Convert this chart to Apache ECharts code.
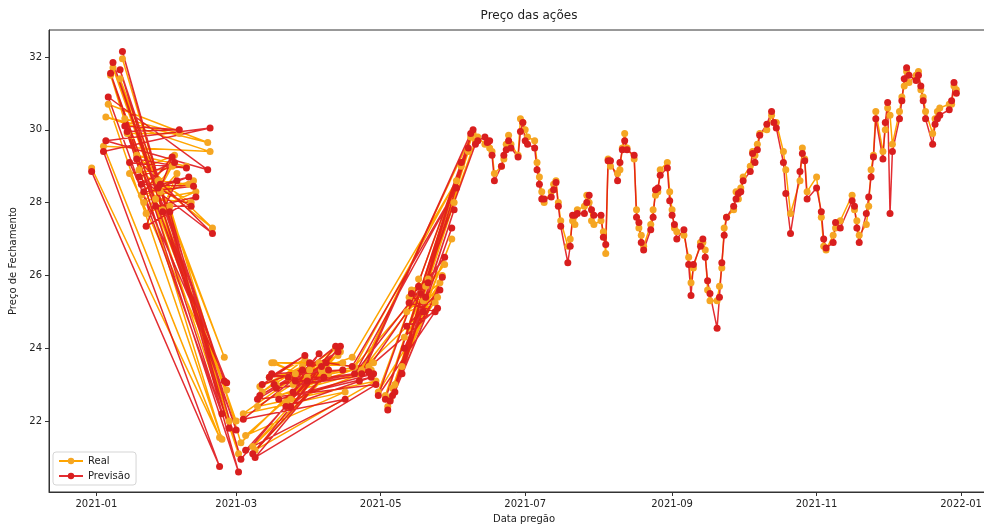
<!DOCTYPE html>
<html>
<head>
<meta charset="utf-8">
<script src="https://cdn.jsdelivr.net/npm/echarts@6/dist/echarts.min.js"></script>
<style>
  html, body { margin: 0; padding: 0; background: #fff; }
  #chart { width: 984px; height: 526px; }
</style>
</head>
<body>
<div id="chart"></div>
<script>
// pregões na ordem em que foram plotados (o primeiro semestre vem embaralhado)
const dates = [
  // jan/fev <-> fev/mar
  '2020-12-30','2021-02-22','2021-01-04','2021-02-18','2021-01-05','2021-02-17','2021-01-06','2021-02-23',
  '2021-01-07','2021-03-01','2021-01-08','2021-02-24','2021-01-11','2021-02-26','2021-01-12','2021-03-02',
  '2021-01-13','2021-02-05','2021-01-14','2021-02-25','2021-01-15','2021-02-08','2021-01-18','2021-02-19',
  '2021-01-19','2021-02-03','2021-01-20','2021-02-11','2021-01-21','2021-02-02','2021-01-22','2021-02-12',
  '2021-01-26','2021-02-10','2021-01-27','2021-02-09','2021-01-28','2021-02-04','2021-01-29','2021-02-01',
  // mar <-> abr
  '2021-03-03','2021-04-12','2021-03-04','2021-04-16','2021-03-05','2021-04-14','2021-03-08','2021-04-09',
  '2021-03-09','2021-04-29','2021-03-10','2021-04-13','2021-03-11','2021-03-29','2021-03-12','2021-03-30',
  '2021-03-15','2021-04-15','2021-03-16','2021-03-31','2021-03-17','2021-04-26','2021-03-18','2021-04-28',
  '2021-03-19','2021-04-27','2021-03-22','2021-04-01','2021-03-23','2021-04-07','2021-03-24','2021-04-06',
  '2021-03-25','2021-04-05','2021-03-26','2021-04-08',
  // abr/mai <-> mai/jun
  '2021-04-19','2021-06-02','2021-04-20','2021-05-28','2021-04-22','2021-06-08','2021-04-23','2021-05-25',
  '2021-04-30','2021-06-09','2021-05-03','2021-06-04','2021-05-04','2021-06-07','2021-05-05','2021-05-31',
  '2021-05-06','2021-06-01','2021-05-07','2021-05-27','2021-05-10','2021-05-20','2021-05-11','2021-05-26',
  '2021-05-12','2021-05-24','2021-05-13','2021-05-21','2021-05-14','2021-05-19','2021-05-17','2021-05-18',
  '2021-06-10',
  // em ordem a partir de junho
  '2021-06-11','2021-06-14','2021-06-15','2021-06-16','2021-06-17','2021-06-18','2021-06-21','2021-06-22',
  '2021-06-23','2021-06-24','2021-06-25','2021-06-28','2021-06-29','2021-06-30','2021-07-01','2021-07-02',
  '2021-07-05','2021-07-06','2021-07-07','2021-07-08','2021-07-09','2021-07-12','2021-07-13','2021-07-14',
  '2021-07-15','2021-07-16','2021-07-19','2021-07-20','2021-07-21','2021-07-22','2021-07-23','2021-07-26',
  '2021-07-27','2021-07-28','2021-07-29','2021-07-30','2021-08-02','2021-08-03','2021-08-04','2021-08-05',
  '2021-08-06','2021-08-09','2021-08-10','2021-08-11','2021-08-12','2021-08-13','2021-08-16','2021-08-17',
  '2021-08-18','2021-08-19','2021-08-20','2021-08-23','2021-08-24','2021-08-25','2021-08-26','2021-08-27',
  '2021-08-30','2021-08-31','2021-09-01','2021-09-02','2021-09-03','2021-09-06','2021-09-08','2021-09-09',
  '2021-09-10','2021-09-13','2021-09-14','2021-09-15','2021-09-16','2021-09-17','2021-09-20','2021-09-21',
  '2021-09-22','2021-09-23','2021-09-24','2021-09-27','2021-09-28','2021-09-29','2021-09-30','2021-10-01',
  '2021-10-04','2021-10-05','2021-10-06','2021-10-07','2021-10-08','2021-10-11','2021-10-13','2021-10-14',
  '2021-10-15','2021-10-18','2021-10-19','2021-10-21','2021-10-25','2021-10-26','2021-10-27','2021-10-28',
  '2021-11-01','2021-11-03','2021-11-04','2021-11-05','2021-11-08','2021-11-09','2021-11-11','2021-11-16',
  '2021-11-17','2021-11-18','2021-11-19','2021-11-22','2021-11-23','2021-11-24','2021-11-25','2021-11-26',
  '2021-11-29','2021-11-30','2021-12-01','2021-12-02','2021-12-03','2021-12-06','2021-12-07','2021-12-08',
  '2021-12-09','2021-12-10','2021-12-13','2021-12-14','2021-12-15','2021-12-16','2021-12-17','2021-12-20',
  '2021-12-21','2021-12-22','2021-12-23','2021-12-27','2021-12-28','2021-12-29','2021-12-30'
];

const real = [
  28.95,21.55,29.55,29.40,30.35,29.65,30.70,21.50,
  31.50,22.00,31.70,23.75,31.40,22.00,31.95,21.10,
  30.30,29.90,29.90,22.85,28.80,29.00,29.30,27.30,
  28.90,29.30,28.20,28.60,28.00,29.00,27.70,28.30,
  28.10,28.00,28.60,28.50,28.30,28.80,27.80,27.90,

  21.40,24.00,22.20,22.80,21.60,23.90,21.30,23.30,
  21.20,23.10,22.40,23.80,22.95,23.50,22.80,23.70,
  23.20,23.60,23.60,23.20,23.60,23.50,23.00,23.60,
  22.70,23.40,22.50,23.40,23.20,23.30,22.60,23.40,
  23.00,23.60,23.30,23.50,

  23.75,28.60,23.50,26.30,23.30,29.80,23.40,25.40,
  22.80,29.90,22.70,29.00,22.40,29.40,22.60,27.00,
  22.90,28.00,23.00,26.00,23.50,25.70,24.30,25.80,
  25.00,25.25,25.40,25.90,25.60,25.30,25.90,25.50,
  29.70,

  29.80,29.60,29.70,29.50,29.40,28.80,29.00,29.20,
  29.60,29.85,29.60,29.30,30.30,30.20,30.00,29.80,
  29.70,29.10,28.70,28.30,28.00,28.30,28.50,28.60,
  28.00,27.50,26.80,27.00,27.50,27.40,27.80,27.90,
  28.20,28.00,27.50,27.40,27.50,27.20,26.60,29.20,
  29.00,28.80,28.90,29.50,29.90,29.50,29.20,27.80,
  27.30,27.10,26.80,27.40,27.80,28.20,28.30,28.90,
  29.10,28.30,27.80,27.30,27.20,27.10,26.50,25.80,
  26.20,26.90,26.90,26.70,25.60,25.30,25.30,25.70,
  26.20,27.30,27.60,27.80,28.30,28.10,28.40,28.70,
  29.00,29.40,29.30,29.60,29.90,30.00,30.40,30.20,
  30.20,29.40,28.90,27.70,28.60,29.50,29.20,28.30,
  28.70,27.60,26.80,26.70,27.10,27.30,27.50,28.20,
  27.80,27.50,27.10,27.40,27.90,28.90,29.30,30.50,
  29.40,30.00,30.60,30.40,29.60,30.50,30.90,31.20,
  31.60,31.30,31.50,31.60,31.10,30.90,30.50,29.90,
  30.30,30.50,30.60,30.70,30.70,31.20,31.10
];

const previsao = [
  28.85,20.75,29.40,30.05,29.70,28.90,30.90,22.20,
  31.55,21.75,31.85,23.10,31.65,21.80,32.15,20.60,
  30.10,30.00,29.95,23.05,29.10,28.95,29.20,27.15,
  28.70,29.10,28.50,28.45,28.30,29.25,27.35,28.15,
  27.90,27.90,28.40,28.70,28.50,28.60,27.75,27.75,

  20.95,24.05,22.05,22.60,21.20,24.05,21.10,23.40,
  21.00,23.00,22.60,23.90,22.70,23.40,23.00,23.80,
  23.20,23.40,23.30,23.10,23.00,23.35,22.90,23.30,
  22.60,23.20,22.40,23.60,23.20,23.20,22.40,23.50,
  22.80,23.85,23.10,23.60,

  23.50,28.40,23.30,26.50,23.10,29.90,23.30,25.10,
  22.70,30.00,22.60,29.10,22.30,29.50,22.55,27.30,
  22.70,27.80,22.80,25.95,23.30,25.40,24.00,25.60,
  24.60,25.00,25.25,25.80,25.50,25.00,25.70,25.50,
  29.60,

  29.70,29.80,29.65,29.70,29.30,28.60,29.00,29.30,
  29.45,29.70,29.50,29.25,29.95,30.20,29.70,29.60,
  29.50,28.90,28.50,28.10,28.10,28.15,28.35,28.55,
  27.90,27.35,26.35,26.80,27.65,27.65,27.70,27.70,
  28.00,28.20,27.80,27.65,27.65,27.05,26.85,29.15,
  29.15,28.60,29.10,29.45,29.70,29.45,29.30,27.60,
  27.45,26.90,26.70,27.25,27.60,28.35,28.40,28.75,
  28.95,28.05,27.65,27.40,27.00,27.25,26.30,25.45,
  26.30,26.80,27.00,26.50,25.85,25.50,24.55,25.40,
  26.35,27.10,27.60,27.90,28.10,28.25,28.30,28.60,
  28.85,29.35,29.10,29.45,29.85,30.15,30.50,30.20,
  30.05,29.10,28.25,27.15,28.85,29.35,29.15,28.10,
  28.40,27.75,27.00,26.75,26.90,27.45,27.30,28.05,
  27.90,27.30,26.90,27.70,28.15,28.70,29.25,30.30,
  29.20,30.20,30.75,27.70,29.40,30.30,30.80,31.40,
  31.70,31.50,31.35,31.50,31.20,30.80,30.30,29.60,
  30.15,30.30,30.40,30.55,30.80,31.30,31.00
];

const xTicks = ['2021-01', '2021-03', '2021-05', '2021-07', '2021-09', '2021-11', '2022-01'];
const yTicks = [22, 24, 26, 28, 30, 32];

const chart = echarts.init(document.getElementById('chart'));
const font = 'DejaVu Sans';
const toTime = s => echarts.number.parseDate(s).getTime();
const xTickValues = xTicks.map(t => toTime(t + '-01'));

const option = {
  animation: false,
  title: {
    text: 'Preço das ações',
    left: 524,
    textAlign: 'center',
    top: 5,
    textStyle: { fontFamily: font, fontSize: 12, fontWeight: 'normal', color: '#222' }
  },
  legend: {
    orient: 'vertical',
    left: 53,
    top: 452,
    data: ['Real', 'Previsão'],
    itemWidth: 24,
    itemHeight: 8,
    itemGap: 5,
    padding: [4, 6, 4, 5],
    backgroundColor: 'rgba(255,255,255,0.85)',
    borderColor: '#d5d5d5',
    borderWidth: 1,
    borderRadius: 3,
    textStyle: { fontFamily: font, fontSize: 10, color: '#222' }
  },
  grid: {
    left: 49, top: 30, width: 950, bottom: 34,
    outerBoundsMode: 'none',
    show: true, borderColor: '#333', borderWidth: 1
  },
  xAxis: {
    type: 'value',
    min: toTime('2020-12-12'),
    max: toTime('2022-01-17'),
    name: 'Data pregão',
    nameLocation: 'middle',
    nameGap: 22,
    nameTextStyle: { fontFamily: font, fontSize: 10, color: '#222' },
    axisLine: { lineStyle: { color: '#333' } },
    axisTick: { customValues: xTickValues, length: 4, lineStyle: { color: '#333' } },
    axisLabel: {
      customValues: xTickValues,
      margin: 7,
      fontFamily: font, fontSize: 10, color: '#222',
      formatter: v => echarts.time.format(v, '{yyyy}-{MM}', false)
    },
    splitLine: { show: false }
  },
  yAxis: {
    type: 'value',
    min: 20.05,
    max: 32.74,
    name: 'Preço de Fechamento',
    nameLocation: 'middle',
    nameGap: 26,
    nameTextStyle: { fontFamily: font, fontSize: 10, color: '#222' },
    axisLine: { show: true, lineStyle: { color: '#333' } },
    axisTick: { show: true, customValues: yTicks, length: 4, lineStyle: { color: '#333' } },
    axisLabel: { customValues: yTicks, margin: 7, fontFamily: font, fontSize: 10, color: '#222' },
    splitLine: { show: false }
  },
  series: [
    {
      name: 'Real',
      type: 'line',
      data: dates.map((d, i) => [toTime(d), real[i]]),
      symbol: 'circle',
      symbolSize: 7,
      itemStyle: { color: '#f5a623' },
      lineStyle: { color: '#ffa500', width: 1.5 }
    },
    {
      name: 'Previsão',
      type: 'line',
      data: dates.map((d, i) => [toTime(d), previsao[i]]),
      symbol: 'circle',
      symbolSize: 7,
      itemStyle: { color: '#d91e1e' },
      lineStyle: { color: '#e0161b', width: 1.5, opacity: 0.9 }
    }
  ]
};

chart.setOption(option);
</script>
</body>
</html>
